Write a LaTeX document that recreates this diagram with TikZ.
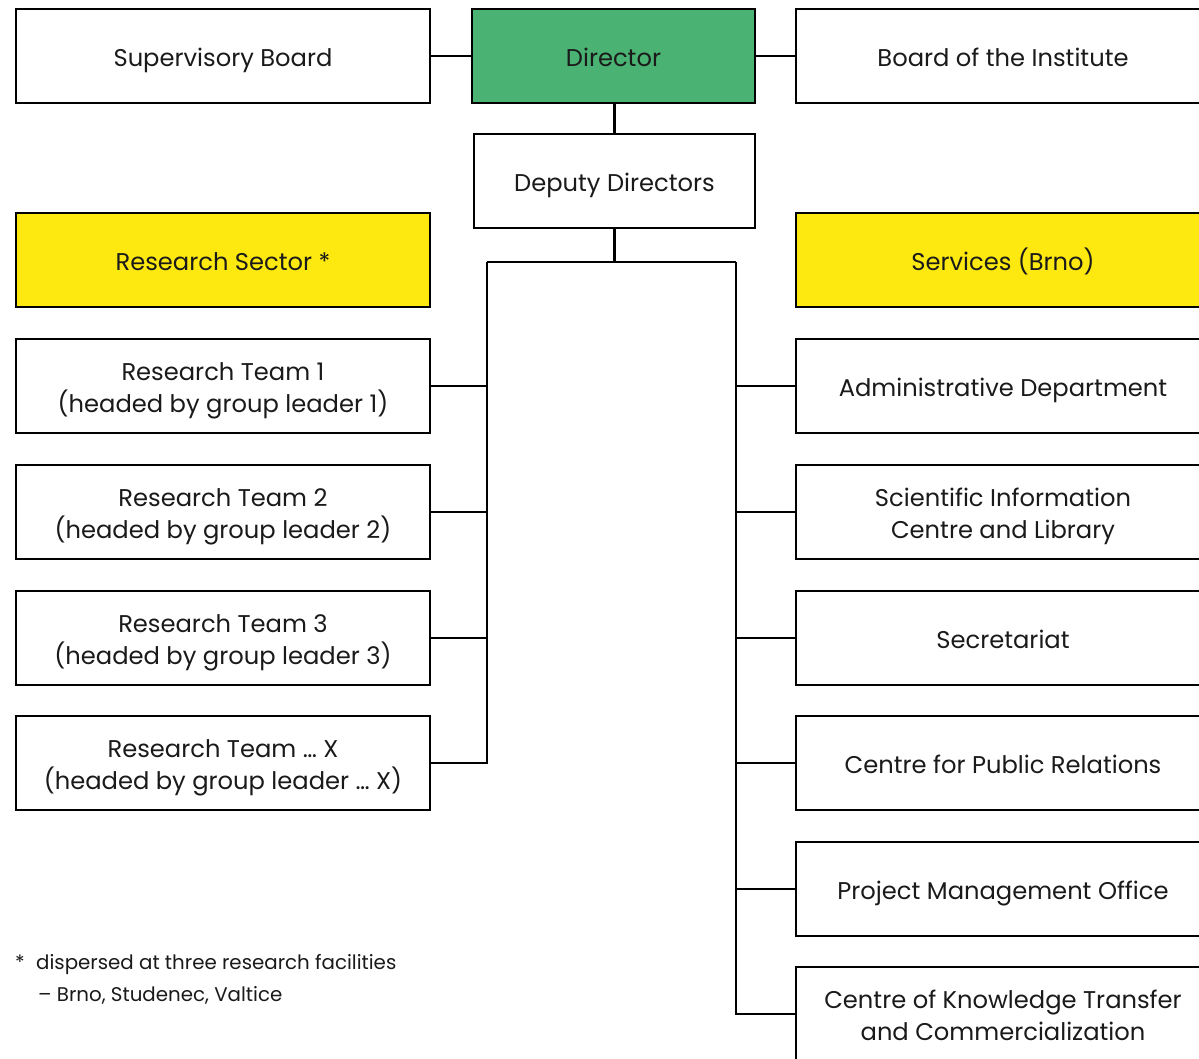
\documentclass[tikz,border=0pt]{standalone}
\usepackage{fontspec}
\setmainfont{Poppins}
\definecolor{dirgreen}{HTML}{4AB272}
\definecolor{secyellow}{HTML}{FDE910}
\definecolor{txt}{HTML}{1A1A1A}
\newcommand\bxt[1]{\raisebox{-4pt}[\height][\depth]{\begin{tabular}{@{}c@{}}#1\end{tabular}}}
\begin{document}
\begin{tikzpicture}[x=1pt,y=-1pt,
  box/.style={draw=black,line width=2.6pt,fill=white,minimum width=414pt,minimum height=94pt,
    inner sep=0pt,align=center,text=txt,font=\fontsize{24.2}{32}\selectfont},
  link/.style={draw=black,line width=2.4pt},
  note/.style={anchor=base west,inner sep=0pt,text=txt,font=\fontsize{19.8}{32}\selectfont}]
\clip (0,0) rectangle (1199,1059);
\fill[white] (0,0) rectangle (1199,1059);
% top row
\node[box] (sup) at (223,56) {\bxt{Supervisory Board}};
\node[box,fill=dirgreen,minimum width=283pt] (dir) at (613.5,56) {\bxt{Director}};
\node[box] (boi) at (1003,56) {\bxt{Board of the Institute}};
\node[box,minimum width=281pt] (dep) at (614.5,181) {\bxt{Deputy Directors}};
% sector headers
\node[box,fill=secyellow] (rs) at (223,260) {\bxt{Research Sector *}};
\node[box,fill=secyellow] (sv) at (1003,260) {\bxt{Services (Brno)}};
% research teams
\node[box] (rt1) at (223,386) {\bxt{Research Team 1\\(headed by group leader 1)}};
\node[box] (rt2) at (223,512) {\bxt{Research Team 2\\(headed by group leader 2)}};
\node[box] (rt3) at (223,638) {\bxt{Research Team 3\\(headed by group leader 3)}};
\node[box] (rtx) at (223,763) {\bxt{Research Team \dots\ X\\(headed by group leader \dots\ X)}};
% services
\node[box] (s1) at (1003,386) {\bxt{Administrative Department}};
\node[box] (s2) at (1003,512) {\bxt{Scientific Information\\Centre and Library}};
\node[box] (s3) at (1003,638) {\bxt{Secretariat}};
\node[box] (s4) at (1003,763) {\bxt{Centre for Public Relations}};
\node[box] (s5) at (1003,889) {\bxt{Project Management Office}};
\node[box] (s6) at (1003,1014) {\bxt{Centre of Knowledge Transfer\\and Commercialization}};
% connectors
\draw[link] (sup.east) -- (dir.west);
\draw[link] (dir.east) -- (boi.west);
\draw[link] (dep.north) -- (dep.north |- dir.south);
\coordinate (lb) at (487,262);
\coordinate (rb) at (736,262);
\draw[link] (dep.south) -- (dep.south |- lb);
\draw[link] (lb) -- (rb);
\draw[link] (lb) -- (lb |- rtx.east) -- (rtx.east);
\foreach \n in {rt1,rt2,rt3} \draw[link] (\n.east) -- (\n.east -| lb);
\draw[link] (rb) -- (rb |- s6.west) -- (s6.west);
\foreach \n in {s1,s2,s3,s4,s5} \draw[link] (\n.west) -- (\n.west -| rb);
% footnote
\node[note] (n1) at (15,969) {*};
\node[note] (n2) at (36,969) {dispersed at three research facilities};
\node[note] (n3) at (38,1001) {– Brno, Studenec, Valtice};
\end{tikzpicture}
\end{document}
